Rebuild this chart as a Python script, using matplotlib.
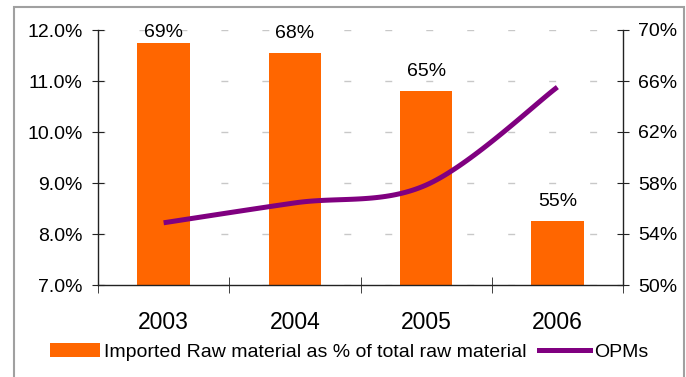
import numpy as np
import matplotlib
matplotlib.use('Agg')
import matplotlib.pyplot as plt
from matplotlib.patches import Rectangle, Patch
from matplotlib.lines import Line2D

# data
years = ['2003', '2004', '2005', '2006']
imported_pct = [69.0, 68.2, 65.2, 55.0]      # right axis (bars)
bar_labels = ['69%', '68%', '65%', '55%']
opm_pct = [8.22, 8.61, 8.96, 10.88]          # left axis (line)

left_ticks = [7, 8, 9, 10, 11, 12]
right_ticks = [50, 54, 58, 62, 66, 70]

plt.rcParams['font.family'] = ['Liberation Sans', 'DejaVu Sans']

ORANGE = '#FF6600'
PURPLE = '#800080'


def excel_smooth(x, y, n=40):
    """Bezier smoothing through the points, like a spreadsheet 'smoothed line'."""
    x = np.asarray(x, float)
    y = np.asarray(y, float)
    P = np.column_stack([x, y])
    P = np.vstack([P[0], P, P[-1]])
    t = np.linspace(0, 1, n)[:, None]
    out = []
    for i in range(1, len(x)):
        p0, p1 = P[i], P[i + 1]
        c1 = p0 + (p1 - P[i - 1]) / 6
        c2 = p1 - (P[i + 2] - p0) / 6
        seg = ((1 - t) ** 3) * p0 + 3 * ((1 - t) ** 2) * t * c1 \
            + 3 * (1 - t) * t ** 2 * c2 + t ** 3 * p1
        out.append(seg if i == 1 else seg[1:])
    out = np.vstack(out)
    return out[:, 0], out[:, 1]


W, H = 686, 377
fig = plt.figure(figsize=(W / 100, H / 100), dpi=100)
ax = fig.add_axes([98 / W, 1 - 285 / H, (623 - 98) / W, (285 - 30) / H])
ax2 = ax.twinx()

xpos = np.arange(len(years))

# bars on the right axis, with dashed grid underneath
ax2.set_axisbelow(True)
ax2.yaxis.grid(True, linestyle=(0, (5, 24.5)), color='#C8C8C8', lw=1.0)
ax2.bar(xpos, imported_pct, width=0.40, color=ORANGE, zorder=2)
# labels sit ~15px over the bar, pushed down near the top of the plot
label_gap = 1.17
label_max = 69.45
for xi, v, lab in zip(xpos, imported_pct, bar_labels):
    ax2.text(xi, min(v + label_gap, label_max), lab, ha='center',
             va='baseline', fontsize=14, clip_on=False)
ax2.set_ylim(50, 70)
ax2.set_yticks(right_ticks)
ax2.set_yticklabels([f'{v}%' for v in right_ticks])

# smoothed line on the left axis, drawn above the bars
ax.set_zorder(ax2.get_zorder() + 1)
ax.patch.set_visible(False)
sx, sy = excel_smooth(xpos, opm_pct)
ax.plot(sx, sy, color=PURPLE, lw=3.6, solid_capstyle='butt')
ax.set_ylim(7, 12)
ax.set_yticks(left_ticks)
ax.set_yticklabels([f'{v:.1f}%' for v in left_ticks])

ax.set_xlim(-0.5, 3.5)
ax.set_xticks(xpos)
ax.set_xticklabels(years)
ax.set_xticks(np.arange(-0.5, 3.6, 1), minor=True)
ax.tick_params(axis='x', which='major', length=0, labelsize=16.5, pad=19)
ax.tick_params(axis='x', which='minor', direction='inout', length=12,
               color='#222222')
ax.tick_params(axis='y', direction='inout', length=8, labelsize=14, pad=7,
               color='#222222')
ax2.tick_params(axis='y', direction='inout', length=8, labelsize=14, pad=7,
                color='#222222')

for s in ['top', 'right']:
    ax.spines[s].set_visible(False)
for s in ['top', 'left', 'bottom']:
    ax2.spines[s].set_visible(False)
for a in (ax, ax2):
    for s in a.spines.values():
        s.set_color('#222222')
        s.set_linewidth(1.0)

# legend under the chart
handles = [Patch(facecolor=ORANGE, edgecolor='none'),
           Line2D([], [], color=PURPLE, lw=3.6)]
labels = ['Imported Raw material as % of total raw material', 'OPMs']
fig.legend(handles, labels, loc='center', bbox_to_anchor=(349 / W, 1 - 352 / H),
           ncol=2, frameon=False, fontsize=14, handlelength=2.6,
           handleheight=0.7, handletextpad=0.2, columnspacing=0.65,
           borderaxespad=0, borderpad=0)

# outer chart frame
fig.patches.append(Rectangle((14 / W, -0.02), (684 - 14) / W, (377 - 7) / H + 0.02,
                             transform=fig.transFigure, fill=False,
                             edgecolor='#A0A0A0', lw=1.5))

fig.savefig('out.png', dpi=100)
